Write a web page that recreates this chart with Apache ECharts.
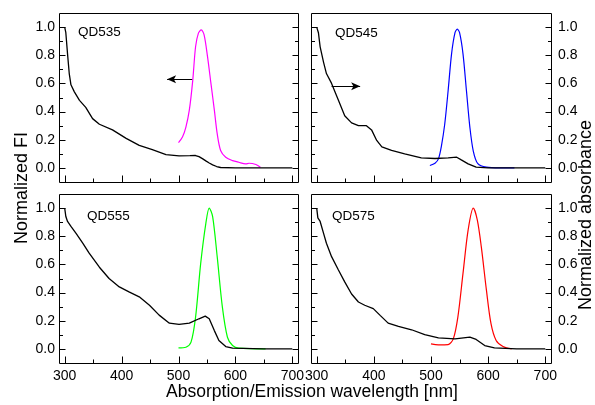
<!DOCTYPE html>
<html>
<head>
<meta charset="utf-8">
<script src="https://cdn.jsdelivr.net/npm/echarts@6/dist/echarts.min.js"></script>
<style>html,body{margin:0;padding:0;background:#fff}#c{width:595px;height:405px}</style>
</head>
<body>
<div id="c"></div>
<script>
// ---------- data ----------
const panelNames = ['QD535', 'QD545', 'QD555', 'QD575'];
const emissionColors = ['#ff00ff', '#0000ff', '#00ff00', '#ff0000'];

// axis ranges / ticks
const xRange = [300, 700], xStep = 100;
const yRange = [0, 1.0], yStep = 0.2;
const xPad = 10, yPad = 0.1;                 // frame margin beyond the ranges (data units)
const xMajorTicks = [300, 400, 500, 600, 700];
const xMinorTicks = [350, 450, 550, 650];
const yMajorTicks = [0, 0.2, 0.4, 0.6, 0.8, 1.0];
const yMinorTicks = [0.1, 0.3, 0.5, 0.7, 0.9];

// QD535
const qd535AbsX = [300, 302, 305, 308, 311, 317, 326, 337, 349, 361, 384, 408, 431, 454, 478, 501, 520, 530, 536, 542, 548, 554, 560, 567, 574, 600, 650, 700];
const qd535AbsY = [1.0, 0.96, 0.81, 0.67, 0.59, 0.54, 0.48, 0.43, 0.35, 0.31, 0.27, 0.21, 0.16, 0.13, 0.095, 0.086, 0.087, 0.088, 0.08, 0.066, 0.05, 0.035, 0.022, 0.01, 0.003, 0.0, 0.0, 0.0];
const qd535EmX = [500, 507, 513, 519, 525, 530, 535, 540, 545, 551, 557, 563, 568, 574, 583, 595, 606, 618, 624, 636, 644];
const qd535EmY = [0.18, 0.219, 0.29, 0.41, 0.62, 0.86, 0.957, 0.98, 0.945, 0.79, 0.6, 0.41, 0.243, 0.124, 0.076, 0.052, 0.04, 0.029, 0.033, 0.024, 0.005];

// QD545
const qd545AbsX = [300, 303, 306, 312, 317, 326, 338, 349, 361, 373, 387, 396, 405, 414, 431, 454, 483, 507, 530, 545, 553, 565, 579, 600, 650, 700];
const qd545AbsY = [1.0, 0.96, 0.86, 0.75, 0.67, 0.6, 0.48, 0.37, 0.32, 0.30, 0.30, 0.27, 0.195, 0.15, 0.124, 0.1, 0.071, 0.067, 0.071, 0.076, 0.057, 0.029, 0.005, 0, 0, 0];
const qd545EmX = [498, 507, 513, 518, 524, 530, 536, 542, 546, 550, 556, 562, 568, 574, 582, 597, 620, 646];
const qd545EmY = [0.017, 0.033, 0.064, 0.15, 0.31, 0.55, 0.81, 0.96, 0.985, 0.96, 0.81, 0.55, 0.29, 0.12, 0.03, 0.005, 0.0, 0.0];

// QD555
const qd555AbsX = [300, 302, 305, 311, 320, 332, 343, 361, 378, 396, 413, 431, 449, 466, 484, 501, 519, 536, 547, 554, 563, 571, 583, 595, 650, 700];
const qd555AbsY = [1.0, 0.94, 0.905, 0.87, 0.82, 0.75, 0.68, 0.58, 0.5, 0.44, 0.405, 0.37, 0.31, 0.24, 0.183, 0.174, 0.183, 0.214, 0.233, 0.214, 0.13, 0.06, 0.017, 0.005, 0, 0];
const qd555EmX = [500, 513, 522, 530, 539, 548, 554, 560, 568, 577, 586, 595, 606, 653];
const qd555EmY = [0.007, 0.012, 0.048, 0.226, 0.607, 0.89, 1.0, 0.94, 0.655, 0.3, 0.083, 0.024, 0.005, 0];

// QD575
const qd575AbsX = [300, 302, 306, 312, 317, 326, 338, 349, 361, 373, 384, 399, 411, 425, 443, 466, 489, 513, 542, 568, 579, 594, 611, 650, 700];
const qd575AbsY = [1.0, 0.93, 0.905, 0.82, 0.75, 0.655, 0.56, 0.476, 0.39, 0.333, 0.31, 0.286, 0.238, 0.183, 0.16, 0.136, 0.102, 0.079, 0.071, 0.083, 0.067, 0.024, 0.007, 0, 0];
const qd575EmX = [500, 513, 530, 539, 547, 556, 565, 574, 581, 588, 597, 605, 614, 626, 641];
const qd575EmY = [0.036, 0.029, 0.031, 0.071, 0.226, 0.536, 0.845, 1.0, 0.917, 0.726, 0.417, 0.179, 0.06, 0.017, 0.0];

// arrows (annotation), [x, y] start -> end
const arrowQD535 = [[524, 0.63], [480, 0.63]];
const arrowQD545 = [[326, 0.58], [376, 0.58]];

// ---------- chart ----------
const FONT = '"Liberation Sans", Arial, sans-serif';
const zip = (xs, ys) => xs.map((x, i) => [x, ys[i]]);
const absData = [zip(qd535AbsX, qd535AbsY), zip(qd545AbsX, qd545AbsY), zip(qd555AbsX, qd555AbsY), zip(qd575AbsX, qd575AbsY)];
const emData = [zip(qd535EmX, qd535EmY), zip(qd545EmX, qd545EmY), zip(qd555EmX, qd555EmY), zip(qd575EmX, qd575EmY)];
const arrows = [arrowQD535, arrowQD545, null, null];

// tick items: [side, value, length]  side 0 = bottom, 1 = left, 2 = right
const MAJ_X = 7, MIN_X = 4, MAJ_Y = 6, MIN_Y = 3.5;
const tickItems = [].concat(
  xMajorTicks.map(v => [0, v, MAJ_X]), xMinorTicks.map(v => [0, v, MIN_X]),
  yMajorTicks.map(v => [1, v, MAJ_Y]), yMinorTicks.map(v => [1, v, MIN_Y]),
  yMajorTicks.map(v => [2, v, MAJ_Y]), yMinorTicks.map(v => [2, v, MIN_Y])
);

// panel frames (pixels)
const frames = [
  {left: 59, top: 13, width: 239, height: 169},
  {left: 311, top: 13, width: 240, height: 169},
  {left: 59, top: 194, width: 239, height: 169},
  {left: 311, top: 194, width: 240, height: 169}
];
const xSpan = xRange[1] - xRange[0] + 2 * xPad;
const ySpan = yRange[1] - yRange[0] + 2 * yPad;
const titlePos = [[78, 25], [335, 26], [87, 209], [332, 209]];

const grids = [], xAxis = [], yAxis = [], series = [], title = [], graphic = [];
for (let i = 0; i < 4; i++) {
  const f = frames[i];
  const sx = f.width / xSpan, sy = f.height / ySpan;
  const offX = xPad * sx, offY = yPad * sy;
  grids.push({left: f.left + offX, top: f.top + offY, width: f.width - 2 * offX, height: f.height - 2 * offY});
  graphic.push({type: 'rect', z: 100, silent: true,
    shape: {x: f.left + 0.5, y: f.top + 0.5, width: f.width, height: f.height},
    style: {fill: 'none', stroke: '#000', lineWidth: 1}});

  const bottomRow = i >= 2;
  const rightCol = i % 2 === 1;
  xAxis.push({gridIndex: i, type: 'value', min: xRange[0], max: xRange[1], interval: xStep,
    offset: offY,
    axisLine: {show: false, onZero: false}, splitLine: {show: false}, axisTick: {show: false},
    axisLabel: {show: bottomRow, margin: 6, color: '#000', fontSize: 14, fontFamily: FONT, showMinLabel: true, showMaxLabel: true}
  });
  ['left', 'right'].forEach(pos => {
    yAxis.push({gridIndex: i, type: 'value', min: yRange[0], max: yRange[1], interval: yStep, position: pos,
      offset: offX,
      axisLine: {show: false, onZero: false}, splitLine: {show: false}, axisTick: {show: false},
      axisLabel: {show: (pos === 'left') !== rightCol, margin: pos === 'left' ? 4 : 7, color: '#000', fontSize: 14, fontFamily: FONT,
        formatter: v => Number(v).toFixed(1), showMinLabel: true, showMaxLabel: true}
    });
  });

  // inward tick marks on the frame, placed through the axes' scales
  series.push({
    type: 'custom', xAxisIndex: i, yAxisIndex: 2 * i, data: tickItems, clip: false, silent: true, z: 50,
    encode: {x: 1, y: 1},
    renderItem: (params, api) => {
      const side = api.value(0), v = api.value(1), len = api.value(2);
      let x1, y1, x2, y2;
      if (side === 0) {
        const p = api.coord([v, yRange[0]]);
        x1 = x2 = Math.round(p[0]) + 0.5;
        y1 = f.top + f.height + 0.5; y2 = y1 - len;
      } else if (side === 1) {
        const p = api.coord([xRange[0], v]);
        y1 = y2 = Math.round(p[1]) + 0.5;
        x1 = f.left + 0.5; x2 = x1 + len;
      } else {
        const p = api.coord([xRange[1], v]);
        y1 = y2 = Math.round(p[1]) + 0.5;
        x1 = f.left + f.width + 0.5; x2 = x1 - len;
      }
      return {type: 'line', shape: {x1, y1, x2, y2}, style: {stroke: '#000', lineWidth: 1}};
    }
  });

  const absSeries = {
    type: 'line', xAxisIndex: i, yAxisIndex: 2 * i, data: absData[i], clip: false,
    showSymbol: false, symbol: 'none', lineStyle: {color: '#000', width: 1.3}, itemStyle: {color: '#000'},
    z: 3
  };
  if (arrows[i]) {
    absSeries.markLine = {
      silent: true, animation: false,
      symbol: ['none', 'arrow'], symbolSize: [6, 9],
      label: {show: false},
      lineStyle: {color: '#000', width: 1, type: 'solid'},
      emphasis: {disabled: true},
      data: [[{coord: arrows[i][0]}, {coord: arrows[i][1]}]]
    };
  }
  series.push(absSeries);
  series.push({
    type: 'line', xAxisIndex: i, yAxisIndex: 2 * i, data: emData[i], clip: false,
    showSymbol: false, symbol: 'none', smooth: 0.3,
    lineStyle: {color: emissionColors[i], width: 1.2}, itemStyle: {color: emissionColors[i]}, z: 2
  });
  title.push({text: panelNames[i], left: titlePos[i][0], top: titlePos[i][1], padding: 0,
    textStyle: {fontSize: 13.5, fontWeight: 'normal', color: '#000', fontFamily: FONT}});
}

graphic.push(
  {type: 'text', x: 22, y: 188, rotation: Math.PI / 2,
    style: {text: 'Normalized FI', fill: '#000', font: '18px ' + FONT, align: 'center', verticalAlign: 'middle', textAlign: 'center', textVerticalAlign: 'middle'}},
  {type: 'text', x: 586, y: 215, rotation: Math.PI / 2,
    style: {text: 'Normalized absorbance', fill: '#000', font: '18px ' + FONT, align: 'center', verticalAlign: 'middle', textAlign: 'center', textVerticalAlign: 'middle'}},
  {type: 'text', x: 312, y: 392,
    style: {text: 'Absorption/Emission wavelength [nm]', fill: '#000', font: '17.5px ' + FONT, align: 'center', verticalAlign: 'middle', textAlign: 'center', textVerticalAlign: 'middle'}}
);

const chart = echarts.init(document.getElementById('c'), null, {renderer: 'canvas'});
chart.setOption({
  animation: false,
  backgroundColor: '#fff',
  title, grid: grids, xAxis, yAxis, series, graphic
});
</script>
</body>
</html>
